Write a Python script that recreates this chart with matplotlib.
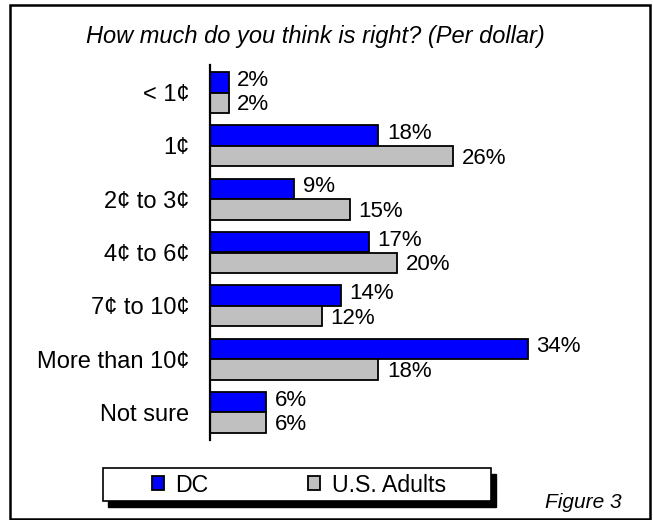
import matplotlib
matplotlib.use("Agg")
import matplotlib.pyplot as plt
import numpy as np
from matplotlib.patches import Rectangle

plt.rcParams['font.family'] = ['Liberation Sans', 'DejaVu Sans']

categories = ["< 1¢", "1¢", "2¢ to 3¢", "4¢ to 6¢", "7¢ to 10¢", "More than 10¢", "Not sure"]
dc_values = [2, 18, 9, 17, 14, 34, 6]
us_values = [2, 26, 15, 20, 12, 18, 6]
series_names = ["DC", "U.S. Adults"]
series_colors = ["#0000FF", "#C0C0C0"]

W, H = 653, 520
fig = plt.figure(figsize=(W / 100, H / 100), dpi=100)


def px(x0, y0, x1, y1):
    # pixel box (top-left origin) -> figure fraction [left, bottom, width, height]
    return [x0 / W, 1 - y1 / H, (x1 - x0) / W, (y1 - y0) / H]


ax = fig.add_axes(px(210, 65, 630, 440))

y = np.arange(len(categories))
h = 0.384
bars_dc = ax.barh(y - h / 2, dc_values, height=h, color=series_colors[0],
                  edgecolor="black", linewidth=1.3, label=series_names[0])
bars_us = ax.barh(y + h / 2, us_values, height=h, color=series_colors[1],
                  edgecolor="black", linewidth=1.3, label=series_names[1])

# value labels; the two in a pair are nudged apart so they don't collide
for bars, vals, dy in ((bars_dc, dc_values, 1.5), (bars_us, us_values, -1.5)):
    for b, v in zip(bars, vals):
        ax.annotate(f"{v}%", (v, b.get_y() + b.get_height() / 2),
                    xytext=(6, dy), textcoords="offset points",
                    ha="left", va="center", fontsize=16)

ax.set_xlim(0, 420 / 9.36)
ax.set_ylim(6.516, -0.516)
ax.set_yticks(y)
ax.set_yticklabels(categories, fontsize=17)
ax.tick_params(axis="y", length=0, pad=15)
ax.set_xticks([])
for side in ("top", "right", "bottom"):
    ax.spines[side].set_visible(False)
ax.spines["left"].set_linewidth(1.6)
ax.patch.set_visible(False)

fig.text(315 / W, 1 - 37 / H, "How much do you think is right? (Per dollar)",
         ha="center", va="center", fontsize=17, style="italic")

# outer frame
fig.patches.append(Rectangle((10 / W, 1 - 519 / H), 640 / W, 514 / H,
                             transform=fig.transFigure, fill=False,
                             edgecolor="black", linewidth=1.8))

# legend box with drop shadow
lx0, ly0, lx1, ly1 = 103, 468, 491, 501
fig.patches.append(Rectangle(((lx0 + 5) / W, 1 - (ly1 + 6) / H), (lx1 - lx0) / W, (ly1 - ly0) / H,
                             transform=fig.transFigure, facecolor="black", edgecolor="black"))
fig.patches.append(Rectangle((lx0 / W, 1 - ly1 / H), (lx1 - lx0) / W, (ly1 - ly0) / H,
                             transform=fig.transFigure, facecolor="white",
                             edgecolor="black", linewidth=1.2))
fig.legend(handles=[bars_dc, bars_us], labels=series_names, ncol=2,
           loc="center", bbox_to_anchor=(299 / W, 1 - 485 / H),
           frameon=False, fontsize=16.7, handlelength=0.5, handleheight=0.55,
           handletextpad=0.5, columnspacing=4.3)

fig.text(622 / W, 1 - 503 / H, "Figure 3", ha="right", va="center",
         fontsize=15, style="italic")

fig.savefig("out.png", dpi=100)
